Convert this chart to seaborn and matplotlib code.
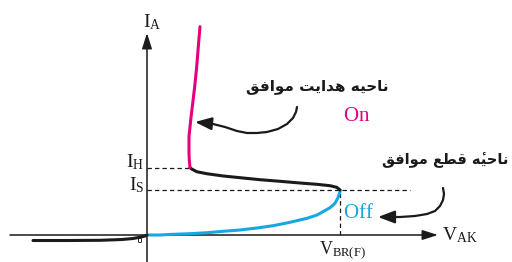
import matplotlib
matplotlib.use("Agg")
import matplotlib.pyplot as plt
import matplotlib.patheffects as pe
import seaborn as sns
import pandas as pd

# ---- data (V to the right, I upward) ----
off_v = [0, 13, 26, 43, 60, 76, 93, 110, 126, 143, 160, 170, 176, 183, 188, 191, 193, 193]
off_i = [0, 0, 0.7, 1.3, 2.3, 3.7, 5, 7, 9.3, 12.7, 16.7, 20, 23.3, 27.3, 31.7, 37.3, 43.3, 45]
neg_v = [193, 189.7, 183, 169.7, 153, 133, 113, 93, 76.3, 59.7, 49.7, 44.7, 43]
neg_i = [45, 47.7, 49.3, 50.7, 52, 53.7, 55.3, 57.3, 59, 61.3, 63.3, 66, 67.3]
on_v = [43, 42.3, 42, 42, 43.7, 45.7, 47.7, 49.7, 51.3, 53]
on_i = [67.3, 75, 81.7, 98.3, 115, 131.7, 148.3, 168.3, 188.3, 208.3]
rev_v = [-114, -80, -47, -25, -14, -6, -2, 0]
rev_i = [-5.5, -5.5, -5.3, -4.5, -3.5, -2, -1, 0]

V_BR = 193
I_S = 45
I_H = 67.3

# annotation arrow paths (last point = arrow tip)
arrow_on_v = [150, 149, 146, 140, 131, 120, 110, 100, 90, 78, 66, 58, 48]
arrow_on_i = [128, 123, 117, 111, 106, 103, 102, 102, 104, 108, 111, 112, 113]
arrow_off_v = [296, 297, 296, 293, 288, 280, 268, 253, 243, 231]
arrow_off_i = [47, 41, 35, 29, 24, 21, 19, 18, 18, 18]

# Persian labels (shaped presentation forms, put in visual order)
def visual(s):
    r = s[::-1]
    return r.replace("\u0654\uFEEA", "\uFEEA\u0654")

txt_on_region = visual("\uFEE7\uFE8E\uFEA3\uFBFF\uFEEA \uFEEB\uFEAA\uFE8D\uFBFE\uFE96 \uFEE3\uFEEE\uFE8D\uFED3\uFED6")
txt_off_region = visual("\uFEE7\uFE8E\uFEA3\uFBFF\uFEEA\u0654 \uFED7\uFEC4\uFECA \uFEE3\uFEEE\uFE8D\uFED3\uFED6")

sns.set_theme(style="white")
plt.rcParams["font.family"] = ["DejaVu Sans"]
plt.rcParams["mathtext.fontset"] = "custom"
plt.rcParams["mathtext.rm"] = "Liberation Serif"
plt.rcParams["mathtext.it"] = "Liberation Serif"

MAG = "#e5007d"
BLUE = "#17a8e2"
BLK = "#1a1a1a"

fig = plt.figure(figsize=(5.12, 2.62), dpi=100)
ax = fig.add_axes([0, 0, 1, 1])

# axes with arrows
ax.plot([-137, 285], [0, 0], color=BLK, lw=1.1)
ax.plot([0, 0], [-27, 196], color=BLK, lw=1.1)
ax.annotate("", xy=(291, 0), xytext=(280, 0),
            arrowprops=dict(arrowstyle="-|>,head_length=0.95,head_width=0.3",
                            mutation_scale=10, color=BLK, lw=1.1, shrinkA=0, shrinkB=0))
ax.annotate("", xy=(0, 202), xytext=(0, 190),
            arrowprops=dict(arrowstyle="-|>,head_length=0.95,head_width=0.3",
                            mutation_scale=10, color=BLK, lw=1.1, shrinkA=0, shrinkB=0))

# dashed guides
dash = dict(color=BLK, lw=0.9, ls=(0, (3.5, 2.5)))
ax.plot([0, on_v[0]], [I_H, I_H], **dash)
ax.plot([0, 263], [I_S, I_S], **dash)
ax.plot([V_BR, V_BR], [0, I_S], **dash)

# curves
for vv, ii, col in ((off_v, off_i, BLUE), (neg_v, neg_i, BLK),
                    (on_v, on_i, MAG), (rev_v, rev_i, BLK)):
    sns.lineplot(data=pd.DataFrame({"v": vv, "i": ii}), x="v", y="i", sort=False,
                 estimator=None, color=col, lw=2.2, ax=ax)
ax.set_xlim(-147, 365)
ax.set_ylim(-27, 235)
ax.axis("off")

# annotation arrows
for vv, ii in ((arrow_on_v, arrow_on_i), (arrow_off_v, arrow_off_i)):
    ax.plot(vv[:-1], ii[:-1], color=BLK, lw=1.6, solid_capstyle="round",
            solid_joinstyle="round")
    ax.annotate("", xy=(vv[-1], ii[-1]), xytext=(vv[-2], ii[-2]),
                arrowprops=dict(arrowstyle="-|>,head_length=1.0,head_width=0.38",
                                mutation_scale=10, color=BLK, lw=1.6, shrinkA=0, shrinkB=0))

# labels
ser = 14
ax.text(-4, 208, r"$\mathrm{I_A}$", fontsize=ser, ha="left", va="baseline", color=BLK)
ax.text(-3, I_H, r"$\mathrm{I_H}$", fontsize=ser, ha="right", va="baseline", color=BLK)
ax.text(-3, I_S, r"$\mathrm{I_S}$", fontsize=ser, ha="right", va="baseline", color=BLK)
ax.text(295, -5, r"$\mathrm{V_{AK}}$", fontsize=ser, ha="left", va="baseline", color=BLK)
ax.text(V_BR + 2, -19, r"$\mathrm{V_{BR(F)}}$", fontsize=13, ha="center", va="baseline", color=BLK)
ax.text(-7, -6, "\u06F0", fontsize=16, ha="center", va="center", color="white",
        path_effects=[pe.withStroke(linewidth=1.3, foreground=BLK)])

ax.text(241, 148, txt_on_region, fontsize=11, fontweight="bold", ha="right", va="center", color=BLK)
ax.text(361, 75, txt_off_region, fontsize=10.5, fontweight="bold", ha="right", va="center", color=BLK)
ax.text(210, 120, r"$\mathrm{On}$", fontsize=15, ha="center", va="center", color=MAG)
ax.text(211, 23, r"$\mathrm{Off}$", fontsize=15, ha="center", va="center", color=BLUE)

fig.savefig("out.png", dpi=100)
